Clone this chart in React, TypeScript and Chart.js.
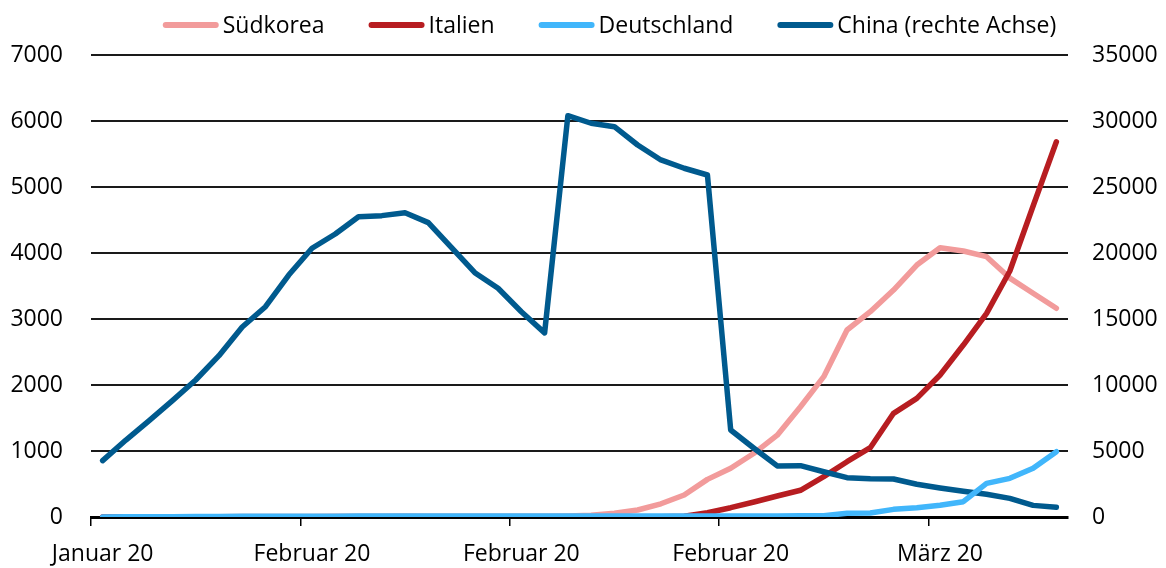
import { useEffect, useRef } from 'react';
import { Chart, registerables } from 'chart.js';

Chart.register(...registerables);

// ---- data ----
const categories = [
  '27.01.', '28.01.', '29.01.', '30.01.', '31.01.',
  '01.02.', '02.02.', '03.02.', '04.02.', '05.02.', '06.02.', '07.02.', '08.02.', '09.02.', '10.02.',
  '11.02.', '12.02.', '13.02.', '14.02.', '15.02.', '16.02.', '17.02.', '18.02.', '19.02.', '20.02.',
  '21.02.', '22.02.', '23.02.', '24.02.', '25.02.', '26.02.', '27.02.', '28.02.', '29.02.',
  '01.03.', '02.03.', '03.03.', '04.03.', '05.03.', '06.03.', '07.03.', '08.03.',
];

const tickIndices = [0, 9, 18, 27, 36];
const tickLabels = ['Januar 20', 'Februar 20', 'Februar 20', 'Februar 20', 'März 20'];

const suedkorea = [
  1, 1, 1, 2, 3, 4, 6, 6, 6, 7, 10, 10, 13, 14, 13, 12, 12, 11, 10, 10,
  15, 25, 56, 106, 200, 333, 570, 738, 965, 1240, 1671, 2126, 2833, 3111,
  3439, 3818, 4080, 4030, 3944, 3620, 3390, 3162,
];

const italien = [
  0, 0, 0, 0, 2, 2, 2, 2, 2, 2, 2, 2, 2, 3, 3, 3, 3, 3, 3, 3,
  3, 3, 3, 3, 3, 10, 65, 141, 227, 318, 405, 611, 838, 1050,
  1571, 1798, 2151, 2606, 3086, 3727, 4712, 5686,
];

const deutschland = [
  1, 4, 4, 5, 7, 8, 10, 12, 12, 12, 13, 14, 14, 14, 16, 16, 16, 16, 16, 16,
  16, 16, 16, 16, 16, 16, 16, 16, 16, 16, 18, 20, 56, 60,
  116, 141, 177, 232, 510, 586, 738, 990,
];

const china = [
  4270, 5830, 7300, 8810, 10380, 12220, 14390, 15930, 18330, 20360, 21440, 22750, 22830, 23050,
  22300, 20400, 18510, 17330, 15550, 13950, 30400, 29830, 29570, 28180, 27050, 26420, 25910,
  6590, 5210, 3870, 3890, 3430, 2980, 2900, 2880, 2480, 2200, 1950, 1720, 1410, 880, 730,
];

const seriesLabels = ['Südkorea', 'Italien', 'Deutschland', 'China (rechte Achse)'];
const seriesColors = ['#F29B9B', '#B71D21', '#41B6FB', '#005A8E'];

const FONT = '"Open Sans", "Noto Sans", sans-serif';
const FONT_SIZE = 23;

const legendPlugin = {
  id: 'topLegend',
  afterDraw(chart: any) {
    const ctx = chart.ctx as CanvasRenderingContext2D;
    ctx.save();
    ctx.font = `${FONT_SIZE}px ${FONT}`;
    const sample = 56;
    const gapText = 4;
    const gapItem = 44;
    const items = chart.data.datasets.map((ds: any) => ({
      label: ds.label as string,
      color: ds.borderColor as string,
      w: ctx.measureText(ds.label).width,
    }));
    const total = items.reduce((s: number, it: any) => s + sample + gapText + it.w, 0) + gapItem * (items.length - 1);
    let x = 609.5 - total / 2;
    const yLine = 25;
    for (const it of items) {
      ctx.beginPath();
      ctx.lineWidth = 6;
      ctx.lineCap = 'round';
      ctx.strokeStyle = it.color;
      ctx.moveTo(x + 3, yLine);
      ctx.lineTo(x + sample - 3, yLine);
      ctx.stroke();
      ctx.fillStyle = '#000';
      ctx.textBaseline = 'alphabetic';
      ctx.textAlign = 'left';
      ctx.fillText(it.label, x + sample + gapText, 32.5);
      x += sample + gapText + it.w + gapItem;
    }
    ctx.restore();
  },
};

export default function App() {
  const ref = useRef<HTMLCanvasElement | null>(null);

  useEffect(() => {
    let chart: Chart | null = null;
    let cancelled = false;
    const build = () => {
      if (cancelled || !ref.current) return;
      Chart.defaults.font.family = FONT;
      Chart.defaults.font.size = FONT_SIZE;
      Chart.defaults.color = '#000';
      const mk = (i: number, data: number[], axis: string, order: number) => ({
        label: seriesLabels[i],
        data,
        yAxisID: axis,
        borderColor: seriesColors[i],
        backgroundColor: seriesColors[i],
        borderWidth: 5.5,
        pointRadius: 0,
        pointHoverRadius: 0,
        tension: 0,
        borderCapStyle: 'round' as const,
        borderJoinStyle: 'round' as const,
        fill: false,
        order,
      });
      chart = new Chart(ref.current, {
        type: 'line',
        data: {
          labels: categories,
          datasets: [
            mk(0, suedkorea, 'y', 4),
            mk(1, italien, 'y', 3),
            mk(2, deutschland, 'y', 1),
            mk(3, china, 'y1', 2),
          ],
        },
        options: {
          responsive: false,
          animation: false,
          events: [],
          layout: { padding: { top: 55, left: 0, right: 0, bottom: 0 } },
          plugins: {
            legend: { display: false },
            tooltip: { enabled: false },
            title: { display: false },
          },
          scales: {
            x: {
              type: 'category',
              offset: true,
              grid: {
                offset: true,
                drawOnChartArea: false,
                drawTicks: true,
                tickLength: 9,
                lineWidth: 1.5,
                color: (c: any) => (tickIndices.includes(c.index) ? '#000' : 'rgba(0,0,0,0)'),
              },
              border: { display: true, color: '#000', width: 3 },
              ticks: {
                autoSkip: false,
                maxRotation: 0,
                minRotation: 0,
                padding: 15,
                color: '#000',
                font: { family: FONT, size: FONT_SIZE },
                callback: (_v: any, i: number) => {
                  const k = tickIndices.indexOf(i);
                  return k >= 0 ? tickLabels[k] : '';
                },
              },
              afterFit: (s: any) => {
                s.height = 51;
              },
            },
            y: {
              position: 'left',
              min: 0,
              max: 7000,
              grid: { drawTicks: false, color: '#1a1a1a', lineWidth: 2 },
              border: { display: false },
              ticks: {
                stepSize: 1000,
                padding: 28,
                color: '#000',
                font: { family: FONT, size: FONT_SIZE },
                callback: (v: any) => String(v),
              },
              afterFit: (s: any) => {
                s.width = 91;
              },
            },
            y1: {
              position: 'right',
              min: 0,
              max: 35000,
              grid: { display: false, drawTicks: false, drawOnChartArea: false },
              border: { display: false },
              ticks: {
                stepSize: 5000,
                padding: 24,
                color: '#000',
                font: { family: FONT, size: FONT_SIZE },
                callback: (v: any) => String(v),
              },
              afterFit: (s: any) => {
                s.width = 98;
              },
            },
          },
        },
        plugins: [legendPlugin],
      });
    };
    const fonts = (document as any).fonts;
    if (fonts && fonts.load) {
      fonts.load(`${FONT_SIZE}px "Open Sans"`).then(build, build);
    } else {
      build();
    }
    return () => {
      cancelled = true;
      if (chart) chart.destroy();
    };
  }, []);

  return (
    <div style={{ position: 'fixed', left: 0, top: 0, width: 1166, height: 568, background: '#fff' }}>
      <canvas ref={ref} width={1166} height={568} style={{ display: 'block', width: 1166, height: 568 }} />
    </div>
  );
}
